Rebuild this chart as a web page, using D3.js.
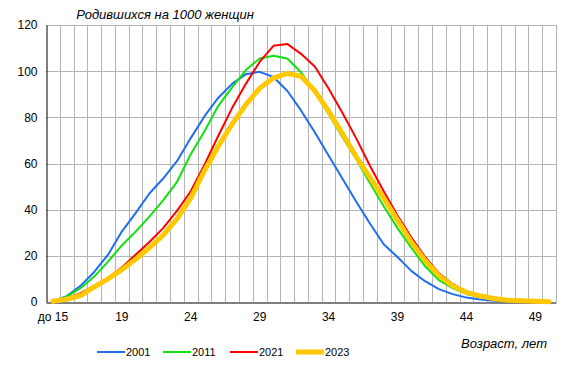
<!DOCTYPE html>
<html>
<head>
<meta charset="utf-8">
<script src="https://cdn.jsdelivr.net/npm/d3@7"></script>
<style>
  body { margin: 0; background: #fff; }
  svg { font-family: "Liberation Sans", Arial, sans-serif; display: block; }
</style>
</head>
<body>
<svg width="570" height="373"></svg>
<script>
// ages: "до 15", 15 ... 50
var ages = ["до 15"];
for (var a = 15; a <= 50; a++) ages.push(String(a));
var tickAges = ["до 15", "19", "24", "29", "34", "39", "44", "49"];
var yTicks = [0, 20, 40, 60, 80, 100, 120];

var years = ["2001", "2011", "2021", "2023"];
var colors = ["#1f6ef0", "#11e011", "#ff0000", "#ffc800"];
var widths = [2, 2, 2, 5];

var v2001 = [0.4, 2.5, 7, 13, 20.5, 30.5, 38.5, 47, 53.5, 61, 71, 80.5, 88.5, 94.5, 98.7, 99.7, 97.5, 91.5, 83, 73.5,
  63.5, 53.5, 43.5, 34, 25, 19.5, 13.5, 9, 5.6, 3.4, 1.9, 1.1, 0.5, 0.3, 0.15, 0.1, 0.05];
var v2011 = [0.3, 2.3, 6, 11, 17.5, 24.5, 30.5, 37, 44, 52, 64, 74, 85, 93, 100.5, 105.5, 106.7, 105.5, 99.5, 91,
  81.5, 71.5, 62, 51.5, 41.5, 32, 23.5, 15.5, 9.5, 6, 3.5, 2, 1, 0.5, 0.3, 0.2, 0.1];
var v2021 = [0.3, 1.7, 3.8, 7, 10.5, 15, 20.5, 26, 32, 39.5, 48, 59.5, 72, 84, 94.5, 104, 111, 111.8, 107.5, 102,
  92.5, 82, 71, 59, 48, 37.5, 28, 19.5, 12.5, 7.8, 4.5, 2.6, 1.4, 0.8, 0.4, 0.2, 0.1];
var v2023 = [0.3, 1.2, 2.8, 6.5, 10, 14, 18.5, 23.5, 29, 36, 45, 57, 67.5, 77, 85.5, 92.6, 97, 99, 97.8, 91.5,
  82.7, 73, 63, 54, 45, 35.5, 26, 18, 11.5, 7, 4.2, 2.6, 1.5, 0.8, 0.5, 0.3, 0.15];
var series = [v2001, v2011, v2021, v2023];

var svg = d3.select("svg");
var plotL = 46, plotR = 556, plotT = 25, plotB = 302;

var x = d3.scaleBand().domain(ages).range([plotL, plotR]).padding(0);
var y = d3.scaleLinear().domain([0, 120]).range([plotB, plotT]);
var cx = function(d) { return x(d) + x.bandwidth() / 2; };

// grid
var grid = svg.append("g").attr("stroke", "#b4b4b4").attr("stroke-width", 1);
grid.selectAll(".vg").data(ages.slice(1)).enter().append("line")
    .attr("x1", function(d) { return Math.round(x(d)) + 0.5; })
    .attr("x2", function(d) { return Math.round(x(d)) + 0.5; })
    .attr("y1", plotT).attr("y2", plotB);
grid.append("line").attr("x1", plotR + 0.5).attr("x2", plotR + 0.5).attr("y1", plotT).attr("y2", plotB);
grid.selectAll(".hg").data(yTicks.slice(1)).enter().append("line")
    .attr("x1", plotL).attr("x2", plotR + 0.5)
    .attr("y1", function(d) { return Math.round(y(d)) + 0.5; })
    .attr("y2", function(d) { return Math.round(y(d)) + 0.5; });

// axes
var yAxis = svg.append("g")
    .attr("transform", "translate(" + (plotL + 0.5) + ",0)")
    .call(d3.axisLeft(y).tickValues(yTicks).tickSize(0).tickPadding(9));
yAxis.select(".domain").attr("stroke", "#000");
yAxis.selectAll("text").attr("font-size", 12).attr("fill", "#000")
    .attr("font-family", "'Liberation Sans', Arial, sans-serif");

var xAxis = svg.append("g")
    .attr("transform", "translate(0," + (plotB + 0.5) + ")")
    .call(d3.axisBottom(x).tickValues(tickAges).tickSize(0).tickPadding(10));
xAxis.select(".domain").attr("stroke", "#000");
xAxis.selectAll("text").attr("font-size", 12).attr("fill", "#000")
    .attr("font-family", "'Liberation Sans', Arial, sans-serif");

// lines
var line = d3.line()
    .x(function(d, i) { return cx(ages[i]); })
    .y(function(d) { return y(d); });

svg.append("g").selectAll("path").data(series).enter().append("path")
    .attr("d", line)
    .attr("fill", "none")
    .attr("stroke", function(d, i) { return colors[i]; })
    .attr("stroke-width", function(d, i) { return widths[i]; })
    .attr("stroke-linejoin", "round")
    .attr("stroke-linecap", "round");

// titles
svg.append("text").attr("x", 165).attr("y", 19).attr("text-anchor", "middle")
    .attr("font-size", 13).attr("font-style", "italic").text("Родившихся на 1000 женщин");
svg.append("text").attr("x", 547).attr("y", 348).attr("text-anchor", "end")
    .attr("font-size", 13).attr("font-style", "italic").text("Возраст, лет");

// legend
var legendX = [97, 163, 230, 296];
var lg = svg.append("g").selectAll("g").data(years).enter().append("g")
    .attr("transform", function(d, i) { return "translate(" + legendX[i] + ",352)"; });
lg.append("line").attr("x1", 0).attr("x2", 28).attr("y1", 0).attr("y2", 0)
    .attr("stroke", function(d, i) { return colors[i]; })
    .attr("stroke-width", function(d, i) { return widths[i]; });
lg.append("text").attr("x", 29).attr("y", 4).attr("font-size", 11).text(function(d) { return d; });
</script>
</body>
</html>
